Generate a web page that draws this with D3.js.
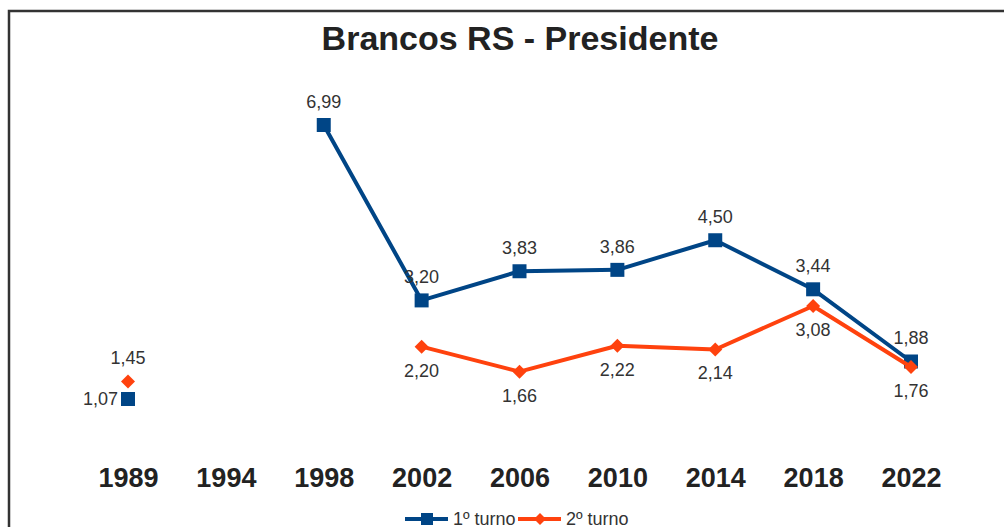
<!DOCTYPE html>
<html><head><meta charset="utf-8">
<script src="https://cdn.jsdelivr.net/npm/d3@7"></script>
<style>html,body{margin:0;padding:0;background:#fff;}svg{display:block;font-family:"Liberation Sans",Arial,sans-serif;}</style>
</head><body>
<svg id="c" width="1004" height="527"></svg>
<script>
const years = ["1989","1994","1998","2002","2006","2010","2014","2018","2022"];
const turno1 = [1.07, null, 6.99, 3.20, 3.83, 3.86, 4.50, 3.44, 1.88];
const turno2 = [1.45, null, null, 2.20, 1.66, 2.22, 2.14, 3.08, 1.76];
const seriesNames = ["1º turno", "2º turno"];
const title = "Brancos RS - Presidente";

const svg = d3.select("#c");
const blue = "#004586", orange = "#ff420e";

// frame
svg.append("path").attr("d","M9,1000 L9,11 L1010,11").attr("fill","none").attr("stroke","#333").attr("stroke-width",2.5);

svg.append("text").attr("x",520).attr("y",50).attr("text-anchor","middle")
  .attr("font-size",34).attr("font-weight","bold").attr("fill","#222").text(title);

const x = d3.scalePoint().domain(years).range([128, 911]);
const y = d3.scaleLinear().domain([0, 7]).range([448.5, 448.5 - 7*46.28]);

const xAxis = svg.append("g").attr("transform","translate(0,478)")
  .call(d3.axisBottom(x).tickSize(0).tickPadding(0));
xAxis.select(".domain").remove();
xAxis.selectAll("text").attr("font-size",27).attr("font-weight","bold").attr("fill","#222")
  .attr("font-family","Liberation Sans, Arial, sans-serif").attr("dy","0.35em").attr("y",0);

function fmt(v){ return v.toFixed(2).replace(".", ","); }

function drawSeries(vals, color, shape){
  const pts = years.map((yr,i)=>({yr, v: vals[i]}));
  const line = d3.line().defined(d=>d.v!=null).x(d=>x(d.yr)).y(d=>y(d.v));
  svg.append("path").datum(pts).attr("d", line).attr("fill","none").attr("stroke",color)
    .attr("stroke-width",4).attr("stroke-linejoin","round");
  const defined = pts.filter(d=>d.v!=null);
  svg.selectAll(null).data(defined).enter().append("path")
    .attr("transform", d=>`translate(${x(d.yr)},${y(d.v)})`)
    .attr("d", shape==="sq" ? "M-7,-7H7V7H-7Z" : "M0,-7L7,0L0,7L-7,0Z")
    .attr("fill", color);
}
drawSeries(turno1, blue, "sq");
drawSeries(turno2, orange, "di");

// labels
const lab = svg.append("g").attr("font-size",18).attr("fill","#333").attr("text-anchor","middle");
years.forEach((yr,i)=>{
  const v1 = turno1[i], v2 = turno2[i];
  if (v1!=null){
    if (i===0) lab.append("text").attr("x",x(yr)-10).attr("y",y(v1)+6).attr("text-anchor","end").text(fmt(v1));
    else lab.append("text").attr("x",x(yr)).attr("y",y(v1)-17).text(fmt(v1));
  }
  if (v2!=null){
    if (i===0) lab.append("text").attr("x",x(yr)).attr("y",y(v2)-17).text(fmt(v2));
    else lab.append("text").attr("x",x(yr)).attr("y",y(v2)+30).text(fmt(v2));
  }
});

// legend
const lg = svg.append("g").attr("font-size",18).attr("fill","#333");
const items = [{n:seriesNames[0], c:blue, s:"sq", x0:405},{n:seriesNames[1], c:orange, s:"di", x0:518}];
items.forEach(it=>{
  lg.append("line").attr("x1",it.x0).attr("x2",it.x0+43).attr("y1",519).attr("y2",519).attr("stroke",it.c).attr("stroke-width",4);
  lg.append("path").attr("transform",`translate(${it.x0+22},519)`)
    .attr("d", it.s==="sq" ? "M-6,-6H6V6H-6Z" : "M0,-6L6,0L0,6L-6,0Z").attr("fill",it.c);
  lg.append("text").attr("x",it.x0+48).attr("y",525).text(it.n);
});
</script>
</body></html>
